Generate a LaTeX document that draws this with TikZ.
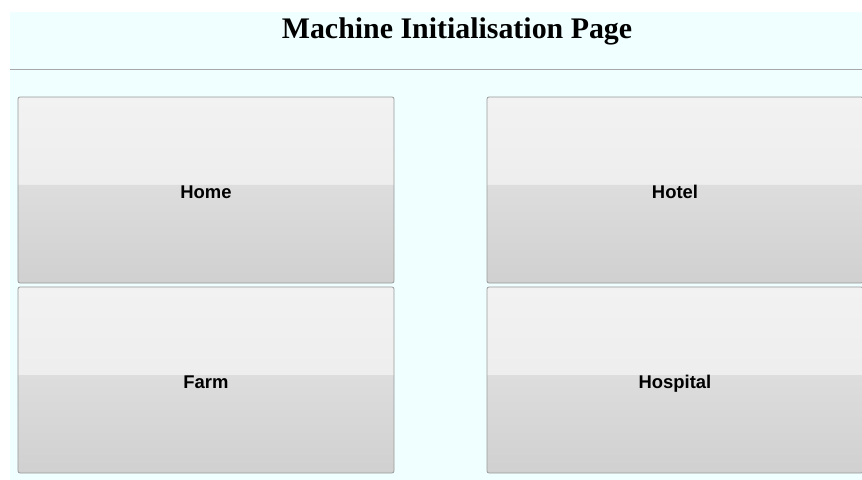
\documentclass[tikz,border=0pt]{standalone}
\usepackage{fontspec}
\setmainfont{Liberation Serif}
\newfontfamily\btnfont{Liberation Sans}
\definecolor{pagebg}{HTML}{F0FFFF}
\definecolor{rulecol}{HTML}{A8A8A8}
\definecolor{btnborder}{HTML}{9A9A9A}
\definecolor{topA}{HTML}{F2F2F2}
\definecolor{topB}{HTML}{E9E9E9}
\definecolor{botA}{HTML}{DDDDDD}
\definecolor{botB}{HTML}{D0D0D0}
\tikzset{
  btn/.style={draw=btnborder, line width=0.8bp, rounded corners=2bp,
    minimum width=376bp, minimum height=186bp, inner sep=0pt,
    text height=16.5bp, text depth=0pt,
    font=\btnfont\bfseries\fontsize{18.5}{22}\selectfont, text=black,
    path picture={
      \shade[top color=topA, bottom color=topB]
        ([xshift=-1bp,yshift=1bp]path picture bounding box.north west)
        rectangle ([xshift=1bp,yshift=5bp]path picture bounding box.east);
      \shade[top color=botA, bottom color=botB]
        ([xshift=-1bp,yshift=5bp]path picture bounding box.west)
        rectangle ([xshift=1bp,yshift=-1bp]path picture bounding box.south east);
    }},
  titletext/.style={font=\bfseries\fontsize{30}{36}\selectfont, text=black, inner sep=0pt}
}
\begin{document}
\begin{tikzpicture}[x=1bp,y=-1bp]
\useasboundingbox (0,0) rectangle (862,480);
\clip (0,0) rectangle (862,480);
\fill[white] (0,0) rectangle (862,480);
\fill[pagebg] (10,12) rectangle (862,480);
\coordinate (ruleL) at (10,70);
\coordinate (ruleR) at (862,70);
\draw[rulecol, line width=1bp] (ruleL) -- (ruleR);
\node[titletext] (title) at (457,31.5) {Machine Initialisation Page};
\node[btn] (home) at (206,190) {Home};
\node[btn] (hotel) at (675,190) {Hotel};
\node[btn] (farm) at (206,380) {Farm};
\node[btn] (hospital) at (675,380) {Hospital};
\end{tikzpicture}
\end{document}
